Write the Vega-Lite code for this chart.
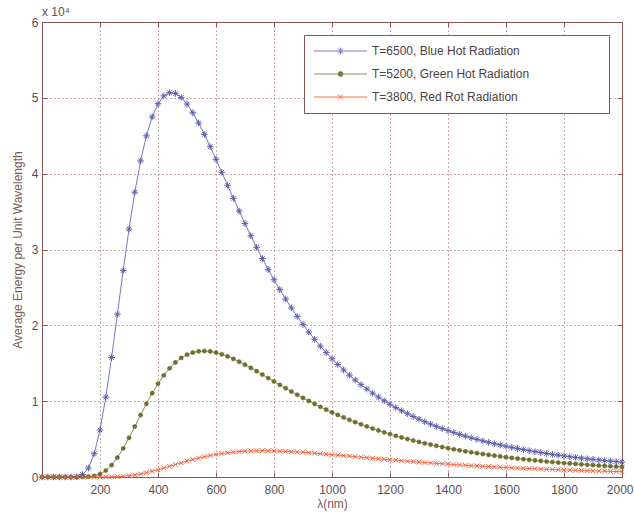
{
"$schema": "https://vega.github.io/schema/vega-lite/v6.json",
"width": 580, "height": 455,
"autosize": {"type": "none"},
"padding": {"left": 42, "top": 22, "right": 12, "bottom": 41},
"background": "white",
"title": {"text": "x 10⁴", "anchor": "start", "frame": "group", "fontSize": 12, "fontWeight": "normal", "font": "Liberation Sans", "color": "#5a4d57", "offset": -3},
"config": {
  "view": {"stroke": "#8a5555", "strokeWidth": 1},
  "font": "Liberation Sans",
  "axis": {"domainColor": "#8a5555", "tickColor": "#8a5555", "gridColor": "#8c4646", "gridDash": [1, 3], "gridOpacity": 0.9, "labelFont": "Liberation Sans", "labelFontSize": 12, "labelColor": "#5a4d57", "titleFont": "Liberation Sans", "titleFontSize": 12, "titleFontWeight": "normal", "titleColor": "#7b5a55", "tickSize": -5}
},
"datasets": {"d": [
{"l":0,"s":"B","e":0},{"l":20,"s":"B","e":0},{"l":40,"s":"B","e":0},{"l":60,"s":"B","e":0},{"l":80,"s":"B","e":0},{"l":100,"s":"B","e":3},{"l":120,"s":"B","e":50},{"l":140,"s":"B","e":321},{"l":160,"s":"B","e":1189},{"l":180,"s":"B","e":3069},{"l":200,"s":"B","e":6199},{"l":220,"s":"B","e":10527},{"l":240,"s":"B","e":15759},{"l":260,"s":"B","e":21472},{"l":280,"s":"B","e":27236},{"l":300,"s":"B","e":32682},{"l":320,"s":"B","e":37550},{"l":340,"s":"B","e":41677},{"l":360,"s":"B","e":44993},{"l":380,"s":"B","e":47494},{"l":400,"s":"B","e":49224},{"l":420,"s":"B","e":50257},{"l":440,"s":"B","e":50679},{"l":460,"s":"B","e":50582},{"l":480,"s":"B","e":50053},{"l":500,"s":"B","e":49180},{"l":520,"s":"B","e":48034},{"l":540,"s":"B","e":46679},{"l":560,"s":"B","e":45176},{"l":580,"s":"B","e":43564},{"l":600,"s":"B","e":41889},{"l":620,"s":"B","e":40178},{"l":640,"s":"B","e":38459},{"l":660,"s":"B","e":36749},{"l":680,"s":"B","e":35067},{"l":700,"s":"B","e":33422},{"l":720,"s":"B","e":31827},{"l":740,"s":"B","e":30283},{"l":760,"s":"B","e":28799},{"l":780,"s":"B","e":27374},{"l":800,"s":"B","e":26011},{"l":820,"s":"B","e":24711},{"l":840,"s":"B","e":23472},{"l":860,"s":"B","e":22295},{"l":880,"s":"B","e":21176},{"l":900,"s":"B","e":20115},{"l":920,"s":"B","e":19110},{"l":940,"s":"B","e":18157},{"l":960,"s":"B","e":17256},{"l":980,"s":"B","e":16403},{"l":1000,"s":"B","e":15596},{"l":1020,"s":"B","e":14833},{"l":1040,"s":"B","e":14112},{"l":1060,"s":"B","e":13430},{"l":1080,"s":"B","e":12785},{"l":1100,"s":"B","e":12176},{"l":1120,"s":"B","e":11599},{"l":1140,"s":"B","e":11054},{"l":1160,"s":"B","e":10539},{"l":1180,"s":"B","e":10051},{"l":1200,"s":"B","e":9590},{"l":1220,"s":"B","e":9153},{"l":1240,"s":"B","e":8739},{"l":1260,"s":"B","e":8347},{"l":1280,"s":"B","e":7976},{"l":1300,"s":"B","e":7625},{"l":1320,"s":"B","e":7292},{"l":1340,"s":"B","e":6975},{"l":1360,"s":"B","e":6676},{"l":1380,"s":"B","e":6391},{"l":1400,"s":"B","e":6121},{"l":1420,"s":"B","e":5865},{"l":1440,"s":"B","e":5621},{"l":1460,"s":"B","e":5389},{"l":1480,"s":"B","e":5169},{"l":1500,"s":"B","e":4960},{"l":1520,"s":"B","e":4761},{"l":1540,"s":"B","e":4571},{"l":1560,"s":"B","e":4391},{"l":1580,"s":"B","e":4219},{"l":1600,"s":"B","e":4055},{"l":1620,"s":"B","e":3899},{"l":1640,"s":"B","e":3750},{"l":1660,"s":"B","e":3608},{"l":1680,"s":"B","e":3473},{"l":1700,"s":"B","e":3344},{"l":1720,"s":"B","e":3220},{"l":1740,"s":"B","e":3102},{"l":1760,"s":"B","e":2989},{"l":1780,"s":"B","e":2882},{"l":1800,"s":"B","e":2779},{"l":1820,"s":"B","e":2680},{"l":1840,"s":"B","e":2586},{"l":1860,"s":"B","e":2496},{"l":1880,"s":"B","e":2409},{"l":1900,"s":"B","e":2327},{"l":1920,"s":"B","e":2247},{"l":1940,"s":"B","e":2171},{"l":1960,"s":"B","e":2098},{"l":1980,"s":"B","e":2029},{"l":2000,"s":"B","e":1962},
{"l":0,"s":"G","e":0},{"l":20,"s":"G","e":0},{"l":40,"s":"G","e":0},{"l":60,"s":"G","e":0},{"l":80,"s":"G","e":0},{"l":100,"s":"G","e":0},{"l":120,"s":"G","e":0},{"l":140,"s":"G","e":6},{"l":160,"s":"G","e":37},{"l":180,"s":"G","e":142},{"l":200,"s":"G","e":390},{"l":220,"s":"G","e":851},{"l":240,"s":"G","e":1571},{"l":260,"s":"G","e":2555},{"l":280,"s":"G","e":3773},{"l":300,"s":"G","e":5164},{"l":320,"s":"G","e":6657},{"l":340,"s":"G","e":8176},{"l":360,"s":"G","e":9657},{"l":380,"s":"G","e":11046},{"l":400,"s":"G","e":12304},{"l":420,"s":"G","e":13407},{"l":440,"s":"G","e":14341},{"l":460,"s":"G","e":15103},{"l":480,"s":"G","e":15694},{"l":500,"s":"G","e":16130},{"l":520,"s":"G","e":16417},{"l":540,"s":"G","e":16573},{"l":560,"s":"G","e":16613},{"l":580,"s":"G","e":16550},{"l":600,"s":"G","e":16402},{"l":620,"s":"G","e":16181},{"l":640,"s":"G","e":15900},{"l":660,"s":"G","e":15570},{"l":680,"s":"G","e":15201},{"l":700,"s":"G","e":14803},{"l":720,"s":"G","e":14383},{"l":740,"s":"G","e":13948},{"l":760,"s":"G","e":13503},{"l":780,"s":"G","e":13053},{"l":800,"s":"G","e":12602},{"l":820,"s":"G","e":12154},{"l":840,"s":"G","e":11710},{"l":860,"s":"G","e":11274},{"l":880,"s":"G","e":10846},{"l":900,"s":"G","e":10429},{"l":920,"s":"G","e":10023},{"l":940,"s":"G","e":9629},{"l":960,"s":"G","e":9248},{"l":980,"s":"G","e":8879},{"l":1000,"s":"G","e":8523},{"l":1020,"s":"G","e":8181},{"l":1040,"s":"G","e":7851},{"l":1060,"s":"G","e":7535},{"l":1080,"s":"G","e":7231},{"l":1100,"s":"G","e":6939},{"l":1120,"s":"G","e":6660},{"l":1140,"s":"G","e":6392},{"l":1160,"s":"G","e":6135},{"l":1180,"s":"G","e":5890},{"l":1200,"s":"G","e":5655},{"l":1220,"s":"G","e":5430},{"l":1240,"s":"G","e":5215},{"l":1260,"s":"G","e":5009},{"l":1280,"s":"G","e":4812},{"l":1300,"s":"G","e":4624},{"l":1320,"s":"G","e":4445},{"l":1340,"s":"G","e":4273},{"l":1360,"s":"G","e":4108},{"l":1380,"s":"G","e":3951},{"l":1400,"s":"G","e":3801},{"l":1420,"s":"G","e":3657},{"l":1440,"s":"G","e":3520},{"l":1460,"s":"G","e":3388},{"l":1480,"s":"G","e":3263},{"l":1500,"s":"G","e":3142},{"l":1520,"s":"G","e":3027},{"l":1540,"s":"G","e":2917},{"l":1560,"s":"G","e":2812},{"l":1580,"s":"G","e":2710},{"l":1600,"s":"G","e":2614},{"l":1620,"s":"G","e":2521},{"l":1640,"s":"G","e":2432},{"l":1660,"s":"G","e":2347},{"l":1680,"s":"G","e":2266},{"l":1700,"s":"G","e":2187},{"l":1720,"s":"G","e":2113},{"l":1740,"s":"G","e":2041},{"l":1760,"s":"G","e":1972},{"l":1780,"s":"G","e":1905},{"l":1800,"s":"G","e":1842},{"l":1820,"s":"G","e":1781},{"l":1840,"s":"G","e":1722},{"l":1860,"s":"G","e":1666},{"l":1880,"s":"G","e":1612},{"l":1900,"s":"G","e":1560},{"l":1920,"s":"G","e":1510},{"l":1940,"s":"G","e":1462},{"l":1960,"s":"G","e":1416},{"l":1980,"s":"G","e":1372},{"l":2000,"s":"G","e":1329},
{"l":0,"s":"R","e":0},{"l":20,"s":"R","e":0},{"l":40,"s":"R","e":0},{"l":60,"s":"R","e":0},{"l":80,"s":"R","e":0},{"l":100,"s":"R","e":0},{"l":120,"s":"R","e":0},{"l":140,"s":"R","e":0},{"l":160,"s":"R","e":0},{"l":180,"s":"R","e":0},{"l":200,"s":"R","e":2},{"l":220,"s":"R","e":8},{"l":240,"s":"R","e":22},{"l":260,"s":"R","e":51},{"l":280,"s":"R","e":99},{"l":300,"s":"R","e":173},{"l":320,"s":"R","e":275},{"l":340,"s":"R","e":408},{"l":360,"s":"R","e":569},{"l":380,"s":"R","e":755},{"l":400,"s":"R","e":961},{"l":420,"s":"R","e":1182},{"l":440,"s":"R","e":1411},{"l":460,"s":"R","e":1643},{"l":480,"s":"R","e":1872},{"l":500,"s":"R","e":2093},{"l":520,"s":"R","e":2302},{"l":540,"s":"R","e":2497},{"l":560,"s":"R","e":2674},{"l":580,"s":"R","e":2834},{"l":600,"s":"R","e":2975},{"l":620,"s":"R","e":3096},{"l":640,"s":"R","e":3199},{"l":660,"s":"R","e":3283},{"l":680,"s":"R","e":3350},{"l":700,"s":"R","e":3400},{"l":720,"s":"R","e":3434},{"l":740,"s":"R","e":3455},{"l":760,"s":"R","e":3462},{"l":780,"s":"R","e":3458},{"l":800,"s":"R","e":3443},{"l":820,"s":"R","e":3420},{"l":840,"s":"R","e":3388},{"l":860,"s":"R","e":3349},{"l":880,"s":"R","e":3303},{"l":900,"s":"R","e":3253},{"l":920,"s":"R","e":3198},{"l":940,"s":"R","e":3140},{"l":960,"s":"R","e":3078},{"l":980,"s":"R","e":3015},{"l":1000,"s":"R","e":2949},{"l":1020,"s":"R","e":2882},{"l":1040,"s":"R","e":2814},{"l":1060,"s":"R","e":2746},{"l":1080,"s":"R","e":2677},{"l":1100,"s":"R","e":2608},{"l":1120,"s":"R","e":2540},{"l":1140,"s":"R","e":2472},{"l":1160,"s":"R","e":2405},{"l":1180,"s":"R","e":2339},{"l":1200,"s":"R","e":2274},{"l":1220,"s":"R","e":2210},{"l":1240,"s":"R","e":2147},{"l":1260,"s":"R","e":2086},{"l":1280,"s":"R","e":2025},{"l":1300,"s":"R","e":1967},{"l":1320,"s":"R","e":1909},{"l":1340,"s":"R","e":1853},{"l":1360,"s":"R","e":1799},{"l":1380,"s":"R","e":1746},{"l":1400,"s":"R","e":1694},{"l":1420,"s":"R","e":1644},{"l":1440,"s":"R","e":1595},{"l":1460,"s":"R","e":1548},{"l":1480,"s":"R","e":1502},{"l":1500,"s":"R","e":1458},{"l":1520,"s":"R","e":1414},{"l":1540,"s":"R","e":1373},{"l":1560,"s":"R","e":1332},{"l":1580,"s":"R","e":1293},{"l":1600,"s":"R","e":1255},{"l":1620,"s":"R","e":1218},{"l":1640,"s":"R","e":1182},{"l":1660,"s":"R","e":1148},{"l":1680,"s":"R","e":1114},{"l":1700,"s":"R","e":1082},{"l":1720,"s":"R","e":1050},{"l":1740,"s":"R","e":1020},{"l":1760,"s":"R","e":991},{"l":1780,"s":"R","e":962},{"l":1800,"s":"R","e":935},{"l":1820,"s":"R","e":908},{"l":1840,"s":"R","e":882},{"l":1860,"s":"R","e":858},{"l":1880,"s":"R","e":833},{"l":1900,"s":"R","e":810},{"l":1920,"s":"R","e":787},{"l":1940,"s":"R","e":766},{"l":1960,"s":"R","e":744},{"l":1980,"s":"R","e":724},{"l":2000,"s":"R","e":704}
]},
"data": {"name": "d"},
"layer": [
  {
    "mark": {"type": "line", "strokeWidth": 1},
    "encoding": {
      "x": {"field": "l", "type": "quantitative", "scale": {"domain": [0, 2000], "nice": false},
            "axis": {"orient": "bottom", "values": [200,400,600,800,1000,1200,1400,1600,1800,2000], "format": "d", "labelPadding": 12, "labelFlush": true, "labelFlushOffset": 11, "title": "λ(nm)", "titlePadding": 3}},
      "y": {"field": "e", "type": "quantitative", "scale": {"domain": [0, 60000], "nice": false},
            "axis": {"orient": "left", "values": [0,10000,20000,30000,40000,50000,60000], "labelExpr": "datum.value/10000", "labelPadding": 9, "labelFlush": false, "title": "Average Energy per Unit Wavelength", "titlePadding": 7}},
      "color": {"field": "s", "type": "nominal",
                "scale": {"domain": ["B", "G", "R"], "range": ["#7878c0", "#8f8f58", "#ff6c48"]},
                "legend": {
                  "orient": "none", "legendX": 262, "legendY": 13, "title": null,
                  "fillColor": "white", "strokeColor": "#8a5555", "padding": 10, "rowPadding": 11,
                  "labelFontSize": 12, "labelFont": "Liberation Sans", "labelColor": "#4d3f45", "labelLimit": 600,
                  "symbolSize": 100, "symbolStrokeWidth": 1, "labelOffset": 46,
                  "labelExpr": "(datum.value == 'B' ? 'T=6500, Blue Hot Radiation' : datum.value == 'G' ? 'T=5200, Green Hot Radiation' : 'T=3800, Red Rot Radiation') + '\u00a0\u00a0\u00a0\u00a0\u00a0\u00a0\u00a0\u00a0\u00a0\u00a0\u00a0\u00a0\u00a0\u00a0\u00a0\u00a0\u00a0\u00a0\u2800'",
                  "encode": {"symbols": {"update": {
                    "shape": {"signal": "datum.value == 'B' ? 'M-1.2,0H9.4M4.1,-0.7V0.7M3.6,-0.5L4.6,0.5M3.6,0.5L4.6,-0.5' : datum.value == 'G' ? 'M-1.2,0H9.4M4.6,0A0.5,0.5,0,1,1,3.6,0A0.5,0.5,0,1,1,4.6,0Z' : 'M-1.2,0H9.4M3.6,-0.5L4.6,0.5M3.6,0.5L4.6,-0.5'"},
                    "fill": {"signal": "datum.value == 'G' ? '#6e6e30' : 'transparent'"}
                  }}}
                }}
    }
  },
  {
    "transform": [{"filter": "datum.s == 'B'"}],
    "mark": {"type": "point", "shape": "M0,-1V1M-1,0H1M-0.7,-0.7L0.7,0.7M-0.7,0.7L0.7,-0.7", "filled": false, "stroke": "#5e5eb0", "strokeWidth": 1, "size": 44, "opacity": 1},
    "encoding": {
      "x": {"field": "l", "type": "quantitative",
            "axis": {"orient": "top", "values": [200,400,600,800,1000,1200,1400,1600,1800,2000], "labels": false, "grid": false, "domain": false, "title": null}},
      "y": {"field": "e", "type": "quantitative",
            "axis": {"orient": "right", "values": [0,10000,20000,30000,40000,50000,60000], "labels": false, "grid": false, "domain": false, "title": null}}
    }
  },
  {
    "transform": [{"filter": "datum.s == 'G'"}],
    "mark": {"type": "point", "shape": "circle", "filled": true, "fill": "#6e6e30", "stroke": "#6e6e30", "strokeWidth": 0.5, "size": 18, "opacity": 1},
    "encoding": {
      "x": {"field": "l", "type": "quantitative", "axis": null},
      "y": {"field": "e", "type": "quantitative", "axis": null}
    }
  },
  {
    "transform": [{"filter": "datum.s == 'R'"}],
    "mark": {"type": "point", "shape": "M-1,-1L1,1M-1,1L1,-1", "filled": false, "stroke": "#f8603c", "strokeWidth": 1, "size": 22, "opacity": 1},
    "encoding": {
      "x": {"field": "l", "type": "quantitative", "axis": null},
      "y": {"field": "e", "type": "quantitative", "axis": null}
    }
  }
],
"resolve": {"axis": {"x": "independent", "y": "independent"}}
}
